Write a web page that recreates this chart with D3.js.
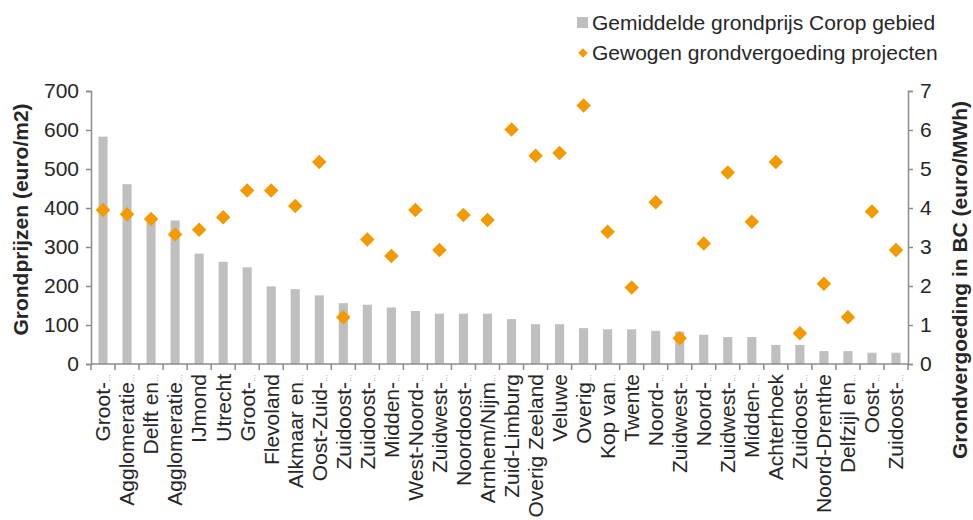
<!DOCTYPE html>
<html>
<head>
  <script src="https://d3js.org/d3.v7.min.js"></script>
  <style>
    body { margin: 0; background: #fff; }
    text { font-family: "Liberation Sans", Arial, sans-serif; fill: #262626; }
    .axis .domain, .axis line { stroke: #8c8c8c; stroke-width: 1.5; }
  </style>
</head>
<body>
<div id="chart"></div>
<script>
// regions (labels as shown, truncated ones end with an ellipsis)
const regions = ["Groot-", "Agglomeratie", "Delft en", "Agglomeratie", "IJmond", "Utrecht",
  "Groot-", "Flevoland", "Alkmaar en", "Oost-Zuid-", "Zuidoost-", "Zuidoost-", "Midden-",
  "West-Noord-", "Zuidwest-", "Noordoost-", "Arnhem/Nijm", "Zuid-Limburg", "Overig Zeeland",
  "Veluwe", "Overig", "Kop van", "Twente", "Noord-", "Zuidwest-", "Noord-", "Zuidwest-",
  "Midden-", "Achterhoek", "Zuidoost-", "Noord-Drenthe", "Delfzijl en", "Oost-", "Zuidoost-"];
const truncated = [1,1,1,1,0,0,1,0,1,1,1,1,1,1,1,1,1,0,0,0,1,1,0,1,1,1,1,1,0,1,0,1,1,1];

// Gemiddelde grondprijs Corop gebied (euro/m2)
const grondprijs = [583, 461, 371, 368, 283, 262, 248, 199, 192, 176, 156, 152, 145, 136, 129, 129,
  129, 115, 102, 102, 92, 89, 89, 85, 83, 75, 69, 69, 49, 49, 33, 33, 29, 29];

// Gewogen grondvergoeding projecten (euro/MWh)
const vergoeding = [3.95, 3.84, 3.72, 3.32, 3.44, 3.76, 4.45, 4.45, 4.05, 5.18, 1.2, 3.19, 2.77,
  3.95, 2.92, 3.82, 3.69, 6.01, 5.34, 5.41, 6.63, 3.39, 1.96, 4.15, 0.66, 3.09, 4.91, 3.65,
  5.18, 0.79, 2.06, 1.2, 3.91, 2.92];

const leftTicks = [0, 100, 200, 300, 400, 500, 600, 700];
const rightTicks = [0, 1, 2, 3, 4, 5, 6, 7];

const width = 973, height = 520;
const margin = { top: 91, right: 65, bottom: 156, left: 91 };
const innerW = width - margin.left - margin.right;
const innerH = height - margin.top - margin.bottom;

const svg = d3.select("#chart").append("svg")
  .attr("width", width)
  .attr("height", height);

const g = svg.append("g")
  .attr("transform", `translate(${margin.left},${margin.top})`);

const idx = d3.range(regions.length);

const x = d3.scaleBand()
  .domain(idx)
  .range([0, innerW])
  .paddingInner(0.62)
  .paddingOuter(0.31);

const yLeft = d3.scaleLinear().domain([0, 700]).range([innerH, 0]);
const yRight = d3.scaleLinear().domain([0, 7]).range([innerH, 0]);

// bars
g.selectAll(".bar")
  .data(idx)
  .join("rect")
  .attr("class", "bar")
  .attr("x", i => x(i))
  .attr("y", i => yLeft(grondprijs[i]))
  .attr("width", x.bandwidth())
  .attr("height", i => innerH - yLeft(grondprijs[i]))
  .attr("fill", "#bfbfbf");

// left axis
g.append("g")
  .attr("class", "axis")
  .call(d3.axisLeft(yLeft).tickValues(leftTicks).tickSize(5).tickPadding(7))
  .call(a => a.selectAll("text").style("font-size", "21px"));

// right axis
g.append("g")
  .attr("class", "axis")
  .attr("transform", `translate(${innerW},0)`)
  .call(d3.axisRight(yRight).tickValues(rightTicks).tickFormat(d3.format("d")).tickSize(5).tickPadding(7))
  .call(a => a.selectAll("text").style("font-size", "21px"));

// bottom axis with ticks between categories
const bottom = g.append("g")
  .attr("class", "axis")
  .attr("transform", `translate(0,${innerH})`);
bottom.append("line")
  .attr("x1", 0).attr("x2", innerW)
  .attr("stroke", "#8c8c8c").attr("stroke-width", 1.5);
const step = x.step();
bottom.selectAll(".sep")
  .data(d3.range(regions.length + 1))
  .join("line")
  .attr("class", "sep")
  .attr("x1", i => i * step).attr("x2", i => i * step)
  .attr("y1", 0).attr("y2", 6)
  .attr("stroke", "#8c8c8c").attr("stroke-width", 1.5);

const labels = bottom.selectAll(".lab")
  .data(idx)
  .join("text")
  .attr("class", "lab")
  .attr("transform", i => `translate(${x(i) + x.bandwidth() / 2},10) rotate(-90)`)
  .attr("text-anchor", "end")
  .attr("dy", "0.35em")
  .style("font-size", "21px");
labels.append("tspan").text(i => regions[i]);
labels.filter(i => truncated[i]).append("tspan")
  .style("font-size", "8px")
  .style("fill", "#777")
  .text("…");

// diamonds
g.selectAll(".pt")
  .data(idx)
  .join("path")
  .attr("class", "pt")
  .attr("d", d3.symbol(d3.symbolSquare, 105)())
  .attr("transform", i => `translate(${x(i) + x.bandwidth() / 2},${yRight(vergoeding[i])}) rotate(45)`)
  .attr("fill", "#f39a00");

// axis titles
svg.append("text")
  .attr("transform", `translate(28,${margin.top + innerH / 2 - 8}) rotate(-90)`)
  .attr("text-anchor", "middle")
  .style("font-size", "21px")
  .style("font-weight", "bold")
  .text("Grondprijzen (euro/m2)");

// right title runs off the image edge, as in the original
svg.append("text")
  .attr("transform", "translate(967,280) rotate(-90)")
  .attr("text-anchor", "middle")
  .style("font-size", "21px")
  .style("font-weight", "bold")
  .text("Grondvergoeding in BC (euro/MWh)");

// legend
const legend = svg.append("g").attr("transform", "translate(577,0)");
legend.append("rect")
  .attr("x", 0).attr("y", 17).attr("width", 11).attr("height", 11)
  .attr("fill", "#bfbfbf");
legend.append("text")
  .attr("x", 15).attr("y", 23).attr("dy", "0.35em")
  .style("font-size", "21px")
  .text("Gemiddelde grondprijs Corop gebied");
legend.append("path")
  .attr("d", d3.symbol(d3.symbolSquare, 45)())
  .attr("transform", "translate(6,53) rotate(45)")
  .attr("fill", "#f39a00");
legend.append("text")
  .attr("x", 15).attr("y", 53).attr("dy", "0.35em")
  .style("font-size", "21px")
  .text("Gewogen grondvergoeding projecten");
</script>
</body>
</html>
